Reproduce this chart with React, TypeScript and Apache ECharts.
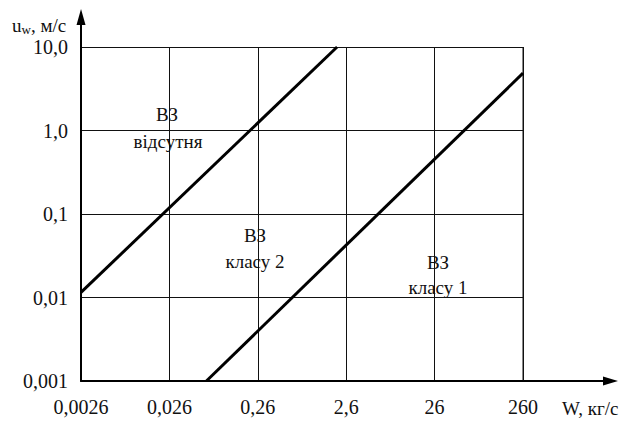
import React, { useEffect, useRef } from "react";
import * as echarts from "echarts";

// Tick labels (log-spaced decades)
const xTickValues = [0.0026, 0.026, 0.26, 2.6, 26, 260];
const xTickLabels = ["0,0026", "0,026", "0,26", "2,6", "26", "260"];
const yTickValues = [0.001, 0.01, 0.1, 1, 10];
const yTickLabels = ["0,001", "0,01", "0,1", "1,0", "10,0"];

// Boundary lines: [W (кг/с), u_w (м/с)]
const line1W = [0.0026, 2.05];
const line1U = [0.0115, 10];
const line2W = [0.0682, 260];
const line2U = [0.001, 4.86];

const X0 = xTickValues[0];
const Y0 = yTickValues[0];
const tx = (w: number) => Math.log10(w / X0);
const ty = (u: number) => Math.log10(u / Y0);

const FONT = "Liberation Serif";

export default function App() {
  const ref = useRef<HTMLDivElement>(null);
  useEffect(() => {
    if (!ref.current) return;
    const chart = echarts.init(ref.current, null, { renderer: "svg" });
    const gl = 81, gt = 47, gw = 442, gh = 334;
    const gr = gl + gw, gb = gt + gh;
    const textStyle = { fontFamily: FONT, fontSize: 19, fill: "#111" };
    const mkText = (x: number, y: number, s: string) => ({
      type: "text",
      x,
      y,
      style: { ...textStyle, text: s, align: "center", verticalAlign: "middle" },
    });
    chart.setOption({
      animation: false,
      backgroundColor: "#fff",
      grid: { left: gl, top: gt, width: gw, height: gh, containLabel: false },
      xAxis: {
        type: "value",
        min: 0,
        max: xTickValues.length - 1,
        interval: 1,
        axisLine: { show: true, onZero: false, lineStyle: { color: "#000", width: 2 } },
        axisTick: { show: false },
        splitLine: { show: true, lineStyle: { color: "#111", width: 1 } },
        axisLabel: {
          margin: 16,
          fontFamily: FONT,
          fontSize: 20,
          color: "#111",
          formatter: (v: number) => xTickLabels[Math.round(v)] ?? "",
        },
      },
      yAxis: {
        type: "value",
        min: 0,
        max: yTickValues.length - 1,
        interval: 1,
        axisLine: { show: true, onZero: false, lineStyle: { color: "#000", width: 2 } },
        axisTick: { show: false },
        splitLine: { show: true, lineStyle: { color: "#111", width: 1 } },
        axisLabel: {
          margin: 13,
          fontFamily: FONT,
          fontSize: 20,
          color: "#111",
          formatter: (v: number) => yTickLabels[Math.round(v)] ?? "",
        },
      },
      series: [
        {
          type: "line",
          data: line1W.map((w, i) => [tx(w), ty(line1U[i])]),
          showSymbol: false,
          lineStyle: { color: "#000", width: 3 },
        },
        {
          type: "line",
          data: line2W.map((w, i) => [tx(w), ty(line2U[i])]),
          showSymbol: false,
          lineStyle: { color: "#000", width: 3 },
        },
      ],
      graphic: [
        { type: "line", shape: { x1: gl, y1: gt, x2: gl, y2: 20 }, style: { stroke: "#000", lineWidth: 2 } },
        { type: "polygon", shape: { points: [[gl, 9], [gl - 4.5, 25], [gl + 4.5, 25]] }, style: { fill: "#000" } },
        { type: "line", shape: { x1: gr, y1: gb, x2: 606, y2: gb }, style: { stroke: "#000", lineWidth: 2 } },
        { type: "polygon", shape: { points: [[618, gb], [603, gb - 4.5], [603, gb + 4.5]] }, style: { fill: "#000" } },
        { type: "line", shape: { x1: gr, y1: gt, x2: gr, y2: gb }, style: { stroke: "#888", lineWidth: 2 } },
        {
          type: "text",
          x: 12,
          y: 25,
          style: {
            text: "{a|u}{b|w}{a|, м/с}",
            verticalAlign: "middle",
            rich: {
              a: { fontFamily: FONT, fontSize: 19, fill: "#111", color: "#111" },
              b: { fontFamily: FONT, fontSize: 13, fill: "#111", color: "#111", padding: [8, 0, 0, 0] },
            },
          },
        },
        { type: "text", x: 562, y: 408, style: { ...textStyle, text: "W, кг/с", align: "left", verticalAlign: "middle" } },
        mkText(167, 114, "ВЗ"),
        mkText(168, 141, "відсутня"),
        mkText(255, 235, "ВЗ"),
        mkText(255, 261, "класу 2"),
        mkText(438, 262, "ВЗ"),
        mkText(438, 287, "класу 1"),
      ],
    });
    return () => chart.dispose();
  }, []);
  return (
    <div
      ref={ref}
      style={{ position: "fixed", left: 0, top: 0, width: 623, height: 421, background: "#fff" }}
    />
  );
}
